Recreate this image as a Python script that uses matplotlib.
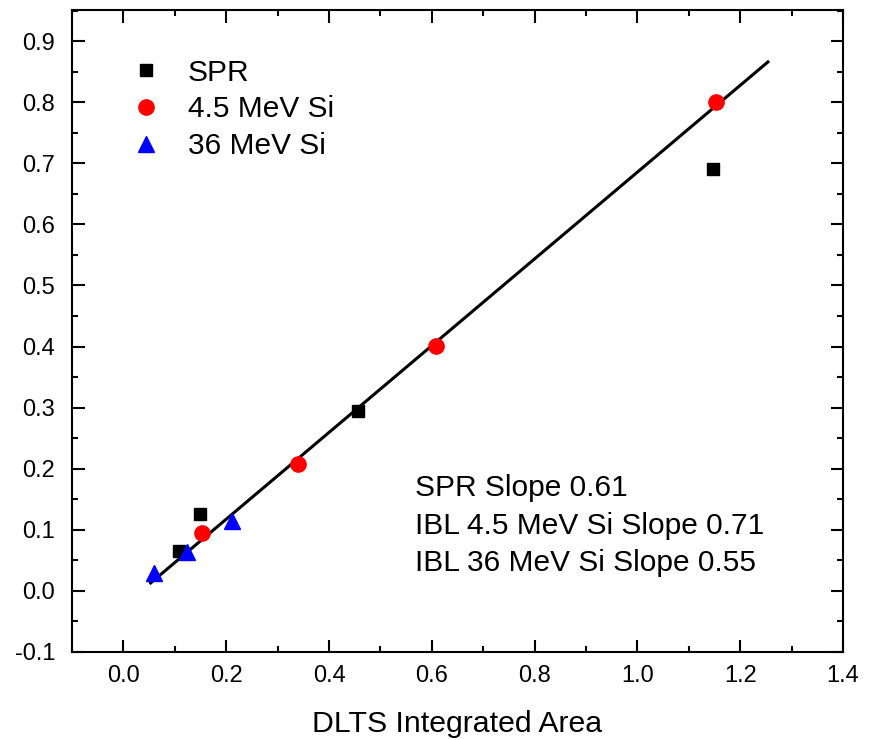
import matplotlib
matplotlib.use("Agg")
import matplotlib.pyplot as plt
from matplotlib.ticker import MultipleLocator

plt.rcParams['font.family'] = ['Liberation Sans', 'DejaVu Sans']

# Data
spr_x = [0.108, 0.149, 0.456, 1.147]
spr_y = [0.065, 0.126, 0.295, 0.690]
si45_x = [0.152, 0.339, 0.609, 1.153]
si45_y = [0.095, 0.208, 0.401, 0.801]
si36_x = [0.060, 0.124, 0.211]
si36_y = [0.030, 0.063, 0.114]
fit_x = [0.053, 1.254]
fit_y = [0.013, 0.866]

x_ticks = [0.0, 0.2, 0.4, 0.6, 0.8, 1.0, 1.2, 1.4]
y_ticks = [-0.1, 0.0, 0.1, 0.2, 0.3, 0.4, 0.5, 0.6, 0.7, 0.8, 0.9]
annotation = ["SPR Slope 0.61", "IBL 4.5 MeV Si Slope 0.71", "IBL 36 MeV Si Slope 0.55"]

fig = plt.figure(figsize=(8.71, 7.40), dpi=100)
ax = fig.add_axes([72/871, 88/740, (843-72)/871, (652-10)/740])

ax.plot(fit_x, fit_y, color='black', lw=2.2, zorder=2)
ax.plot(spr_x, spr_y, 's', color='black', ms=8, ls='none', label='SPR', zorder=3)
ax.plot(si45_x, si45_y, 'o', color='#ff0000', ms=11, ls='none', label='4.5 MeV Si', zorder=3)
ax.plot(si36_x, si36_y, '^', color='#0000ff', ms=12, ls='none', label='36 MeV Si', zorder=3)

ax.set_xlim(-0.1, 1.4)
ax.set_ylim(-0.1, 0.951)
ax.set_xticks(x_ticks)
ax.set_yticks(y_ticks)
ax.set_xticklabels([f"{v:.1f}" for v in x_ticks])
ax.set_yticklabels([f"{v:.1f}" for v in y_ticks])
ax.xaxis.set_minor_locator(MultipleLocator(0.1))
ax.yaxis.set_minor_locator(MultipleLocator(0.05))

ax.tick_params(which='both', direction='in', top=True, right=True, width=1.5, labelsize=17)
ax.tick_params(which='major', length=9)
ax.tick_params(which='minor', length=4.5)
ax.tick_params(axis='x', which='major', pad=9)
ax.tick_params(axis='y', which='major', pad=12)
for s in ax.spines.values():
    s.set_linewidth(1.5)

ax.set_xlabel("DLTS Integrated Area", fontsize=21.8, labelpad=17)

leg = ax.legend(loc='upper left', bbox_to_anchor=(0.061, 0.943), frameon=False,
                fontsize=21.5, handletextpad=0.9, labelspacing=0.30, handlelength=1.0,
                borderaxespad=0.0)

ax.text(0.445, 0.277, "\n".join(annotation), transform=ax.transAxes, fontsize=21.5,
        va='top', ha='left', linespacing=1.43)

fig.savefig("out.png", dpi=100)
